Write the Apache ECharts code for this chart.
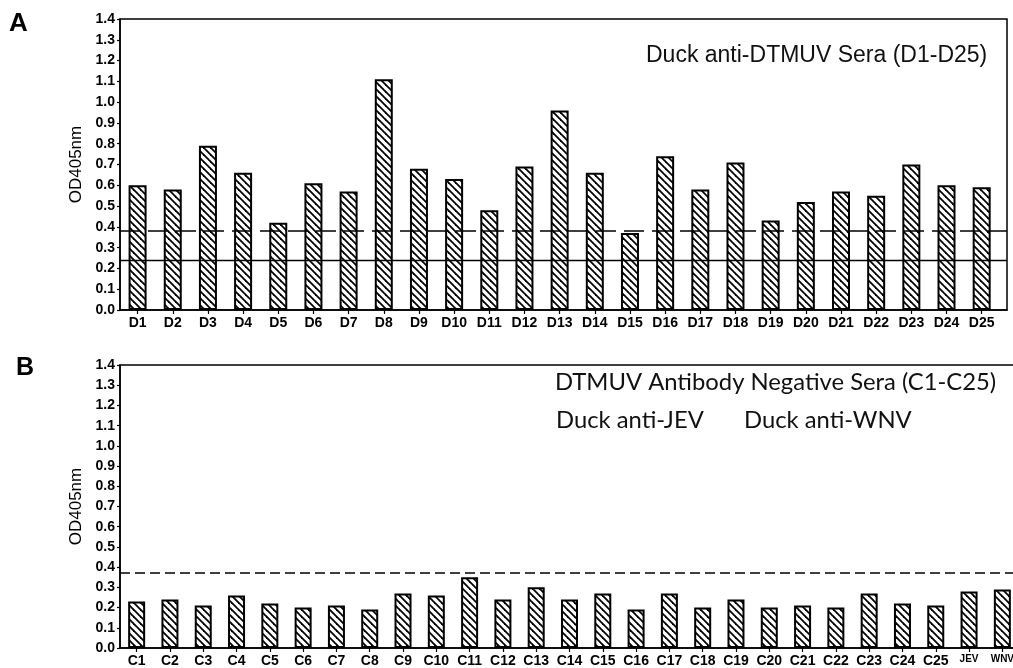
<!DOCTYPE html>
<html>
<head>
<meta charset="utf-8">
<script src="https://cdn.jsdelivr.net/npm/echarts@6/dist/echarts.min.js"></script>
<style>
  html, body { margin: 0; padding: 0; background: #fff; }
  #chart { width: 1013px; height: 668px; }
</style>
</head>
<body>
<div id="chart"></div>
<script>
// Panel A: duck anti-DTMUV sera
const seraA = ['D1','D2','D3','D4','D5','D6','D7','D8','D9','D10','D11','D12','D13',
               'D14','D15','D16','D17','D18','D19','D20','D21','D22','D23','D24','D25'];
const odA = [0.60, 0.58, 0.79, 0.66, 0.42, 0.61, 0.57, 1.11, 0.68, 0.63, 0.48, 0.69, 0.96,
             0.66, 0.37, 0.74, 0.58, 0.71, 0.43, 0.52, 0.57, 0.55, 0.70, 0.60, 0.59];
const cutoffA = 0.375;
const baselineA = 0.24;

// Panel B: DTMUV antibody negative sera plus anti-JEV / anti-WNV sera
const seraB = ['C1','C2','C3','C4','C5','C6','C7','C8','C9','C10','C11','C12','C13',
               'C14','C15','C16','C17','C18','C19','C20','C21','C22','C23','C24','C25','JEV','WNV'];
const odB = [0.23, 0.24, 0.21, 0.26, 0.22, 0.20, 0.21, 0.19, 0.27, 0.26, 0.35, 0.24, 0.30,
             0.24, 0.27, 0.19, 0.27, 0.20, 0.24, 0.20, 0.21, 0.20, 0.27, 0.22, 0.21, 0.28, 0.29];
const cutoffB = 0.367;

const yTicks = [0, 1.4, 0.1];

// back-slash hatching tile for the bars
function hatchTile() {
  const s = 7;
  const c = document.createElement('canvas');
  c.width = s; c.height = s;
  const ctx = c.getContext('2d');
  ctx.fillStyle = '#fff';
  ctx.fillRect(0, 0, s, s);
  ctx.strokeStyle = '#000';
  ctx.lineWidth = 1.8;
  for (const k of [-s, 0, s]) {
    ctx.beginPath();
    ctx.moveTo(-2, -2 + k);
    ctx.lineTo(s + 2, s + 2 + k);
    ctx.stroke();
  }
  return c;
}
const hatch = { image: hatchTile(), repeat: 'repeat' };

const FONT = '"Liberation Sans", Arial, sans-serif';
const NOTE_FONT = '23.8px Lato, "Open Sans", sans-serif';
const positions = arr => arr.map((_, i) => i + 1);

function xAxisFor(gridIndex, labels, max) {
  return {
    type: 'value', gridIndex, min: 0.5, max,
    splitLine: { show: false },
    axisLine: { show: true, lineStyle: { color: '#000', width: 1.5 } },
    axisTick: { show: true, length: 4, inside: false, customValues: positions(labels),
                lineStyle: { color: '#000', width: 1.2 } },
    axisLabel: {
      customValues: positions(labels),
      formatter: v => labels[Math.round(v) - 1] || '',
      margin: 6,
      color: '#000', fontFamily: FONT, fontWeight: 'bold', fontSize: 14,
      rich: { s: { fontSize: 10, fontWeight: 'bold', fontFamily: FONT, color: '#000' } }
    }
  };
}

function yAxisFor(gridIndex) {
  return {
    type: 'value', gridIndex, min: yTicks[0], max: yTicks[1], interval: yTicks[2],
    name: 'OD405nm', nameLocation: 'middle', nameGap: 33,
    nameTextStyle: { color: '#000', fontFamily: FONT, fontSize: 17 },
    splitLine: { show: false },
    axisLine: { show: true, lineStyle: { color: '#000', width: 1.5 } },
    axisTick: { show: true, length: 3, lineStyle: { color: '#000', width: 1.2 } },
    axisLabel: { formatter: v => v.toFixed(1), margin: 5, color: '#000',
                 fontFamily: FONT, fontWeight: 'bold', fontSize: 14 }
  };
}

const barStyle = { color: hatch, borderColor: '#000', borderWidth: 2 };

const chart = echarts.init(document.getElementById('chart'), null, { renderer: 'canvas' });
const xB = xAxisFor(1, seraB, 27.5);
xB.axisLabel.formatter = v => {
  const t = seraB[Math.round(v) - 1] || '';
  return t.startsWith('C') ? t : '{s|' + t + '}';
};

chart.setOption({
  animation: false,
  backgroundColor: '#fff',
  grid: [
    { left: 120, right: 6, top: 19, height: 291, show: true, borderColor: '#000', borderWidth: 1.5,
      backgroundColor: 'transparent', outerBoundsMode: 'none', containLabel: false },
    { left: 120, right: -6, top: 365, height: 283, show: true, borderColor: '#000', borderWidth: 1.5,
      backgroundColor: 'transparent', outerBoundsMode: 'none', containLabel: false }
  ],
  xAxis: [xAxisFor(0, seraA, 25.72), xB],
  yAxis: [yAxisFor(0), yAxisFor(1)],
  series: [
    {
      type: 'bar', xAxisIndex: 0, yAxisIndex: 0, barWidth: 18,
      data: odA.map((v, i) => [i + 1, v]),
      itemStyle: barStyle,
      markLine: {
        silent: true, symbol: ['none', 'none'], label: { show: false }, z: 5,
        data: [
          { yAxis: cutoffA, lineStyle: { color: '#000', width: 1.5, type: [20, 8] } },
          { yAxis: baselineA, lineStyle: { color: '#000', width: 1.3, type: 'solid' } }
        ]
      }
    },
    {
      type: 'bar', xAxisIndex: 1, yAxisIndex: 1, barWidth: 17,
      data: odB.map((v, i) => [i + 1, v]),
      itemStyle: barStyle,
      markLine: {
        silent: true, symbol: ['none', 'none'], label: { show: false }, z: 5,
        data: [
          { yAxis: cutoffB, lineStyle: { color: '#000', width: 1.5, type: [10, 5] } }
        ]
      }
    }
  ],
  graphic: [
    { type: 'text', left: 9, top: 11, style: { text: 'A', fill: '#000', font: 'bold 26px ' + FONT } },
    { type: 'text', left: 16, top: 356, style: { text: 'B', fill: '#000', font: 'bold 25px ' + FONT } },
    { type: 'text', left: 646, top: 44, style: { text: 'Duck anti-DTMUV Sera (D1-D25)', fill: '#111', font: '23px ' + FONT } },
    { type: 'text', left: 555, top: 370, style: { text: 'DTMUV Antibody Negative Sera (C1-C25)', fill: '#111', font: NOTE_FONT } },
    { type: 'text', left: 556, top: 408, style: { text: 'Duck anti-JEV', fill: '#111', font: NOTE_FONT } },
    { type: 'text', left: 744, top: 408, style: { text: 'Duck anti-WNV', fill: '#111', font: NOTE_FONT } }
  ]
});
</script>
</body>
</html>
